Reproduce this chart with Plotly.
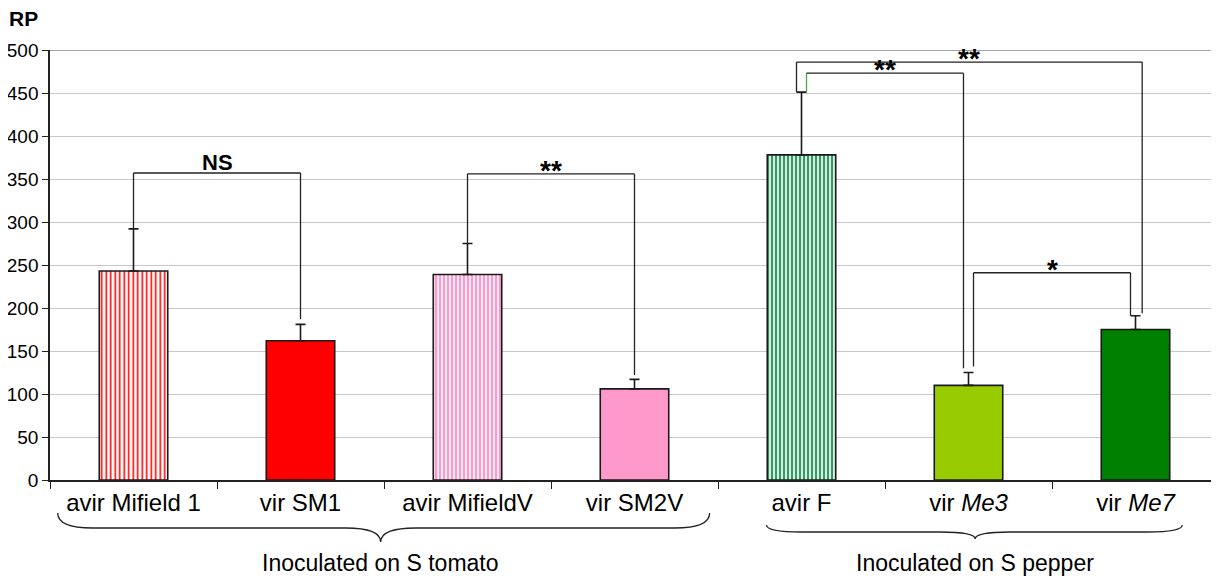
import plotly.graph_objects as go

categories = ["avir Mifield 1", "vir SM1", "avir MifieldV", "vir SM2V",
              "avir F", "vir <i>Me3</i>", "vir <i>Me7</i>"]
values = [243, 162, 239, 106, 378, 110, 175]
errors = [49, 19, 36, 11, 73, 15, 16]
fill_colors = ["white", "#FF0000", "white", "#FF99CC", "white", "#99CC00", "#008000"]
pattern_shapes = ["|", "", "|", "", "|", "", ""]
pattern_fg = ["#FF0000", "#FF0000", "#FF99CC", "#FF99CC", "#339966", "#99CC00", "#008000"]
pattern_size = [4.5, 4, 4, 4, 4, 4, 4]
pattern_solid = [0.35, 0.5, 0.6, 0.5, 0.6, 0.5, 0.5]
y_ticks = [0, 50, 100, 150, 200, 250, 300, 350, 400, 450, 500]

# significance brackets: (x_left, x_right, y_bar, y_left_end, y_right_end, label)
brackets = [
    (0.0, 1.0, 357, 292, 187, "NS"),
    (2.0, 3.0, 356, 275, 122, "**"),
    (3.97, 6.04, 486, 451, 194, "**"),
    (4.03, 4.97, 473, 451, 130, "**"),
    (5.03, 5.97, 241, 132, 191, "*"),
]
# groups: (x_left, x_right, x_tip, label, y_top, y_mid, y_bot) y in page pixels below plot
groups = [
    (-0.454, 3.45, 1.48, "Inoculated on S tomato", 513, 528, 542),
    (3.79, 6.28, 5.04, "Inoculated on S pepper", 525, 532, 539),
]

OFF = 8  # page body margin
W, H = 1219 - OFF, 578 - OFF
ML, MR, MT, MB = 50 - OFF, 0, 50 - OFF, 98
PW, PH = W - ML - MR, H - MT - MB
XR = [-0.5, 6.5]

def xpaper(x):
    return (x - XR[0]) / (XR[1] - XR[0])

def ypaper(py_page):
    return (480 - py_page) / PH

def xpaper_px(px_page):
    return (px_page - 50) / PW

fig = go.Figure()
for i, cat in enumerate(categories):
    if pattern_shapes[i]:
        pat = dict(shape=pattern_shapes[i], fgcolor=pattern_fg[i], bgcolor="white",
                   size=pattern_size[i], solidity=pattern_solid[i], fillmode="replace")
    else:
        pat = dict(shape="")
    fig.add_trace(go.Bar(
        x=[cat], y=[values[i]], width=0.41,
        marker=dict(color=fill_colors[i], line=dict(color="#1a1a1a", width=1.6), pattern=pat),
        error_y=dict(type="data", symmetric=False, array=[errors[i]], arrayminus=[0],
                     color="#1a1a1a", thickness=1.6, width=5),
        showlegend=False,
    ))

shapes = []
annotations = []
for x0, x1, yb, yl, yr, lab in brackets:
    col = "#222222"
    lcol = "#44AA44" if (x0 == 4.03) else col
    shapes.append(dict(type="line", xref="x", yref="y", x0=x0, x1=x0, y0=yl, y1=yb,
                       line=dict(color=lcol, width=1.3)))
    shapes.append(dict(type="line", xref="x", yref="y", x0=x0, x1=x1, y0=yb, y1=yb,
                       line=dict(color=col, width=1.3)))
    shapes.append(dict(type="line", xref="x", yref="y", x0=x1, x1=x1, y0=yb, y1=yr,
                       line=dict(color=col, width=1.3)))
    star = lab != "NS"
    annotations.append(dict(x=(x0 + x1) / 2, y=yb, xref="x", yref="y", text="<b>%s</b>" % lab,
                            showarrow=False, yanchor="bottom",
                            yshift=-14 if star else -4,
                            font=dict(family="Liberation Sans", size=28 if star else 22,
                                      color="black")))

# top frame line
shapes.append(dict(type="line", xref="paper", yref="y", x0=0, x1=1, y0=500, y1=500,
                   line=dict(color="#888888", width=1.5)))

for xl, xr, xt, lab, yt, ym, ybt in groups:
    pl, pr, pt = xpaper(xl), xpaper(xr), xpaper(xt)
    d = 0.03
    yT, yM, yB = ypaper(yt), ypaper(ym), ypaper(ybt)
    path = (f"M {pl},{yT} Q {pl},{yM} {pl + d},{yM} L {pt - d},{yM} "
            f"Q {pt},{yM} {pt},{yB} Q {pt},{yM} {pt + d},{yM} "
            f"L {pr - d},{yM} Q {pr},{yM} {pr},{yT}")
    shapes.append(dict(type="path", xref="paper", yref="paper", path=path,
                       line=dict(color="#222222", width=1.3)))
    annotations.append(dict(x=pt, y=ypaper(563), xref="paper", yref="paper", text=lab,
                            showarrow=False, xanchor="center", yanchor="middle", borderpad=0,
                            font=dict(family="Liberation Sans", size=23, color="black")))

annotations.append(dict(x=xpaper_px(23), y=ypaper(18), xref="paper", yref="paper",
                        text="<b>RP</b>", showarrow=False, xanchor="center", yanchor="middle",
                        font=dict(family="Liberation Sans", size=21, color="black")))

fig.update_layout(
    width=W, height=H, margin=dict(l=ML, r=MR, t=MT, b=MB, autoexpand=False),
    paper_bgcolor="white", plot_bgcolor="white", barmode="overlay",
    shapes=shapes, annotations=annotations,
    font=dict(family="Liberation Sans", color="black"),
    xaxis=dict(type="category", range=XR, tickson="boundaries", ticks="outside", ticklen=7,
               tickcolor="#222222", showgrid=False, showline=True, linecolor="#222222",
               linewidth=1.5, tickfont=dict(size=24, color="black"), automargin=False),
    yaxis=dict(range=[0, 500], tickvals=y_ticks, ticks="outside", ticklen=6,
               tickcolor="#222222", showgrid=True, gridcolor="#C8C8C8", gridwidth=1.3,
               showline=True, linecolor="#222222", linewidth=1.5, zeroline=False,
               tickfont=dict(size=19, color="black"), automargin=False),
)

fig.write_html("out.html")
